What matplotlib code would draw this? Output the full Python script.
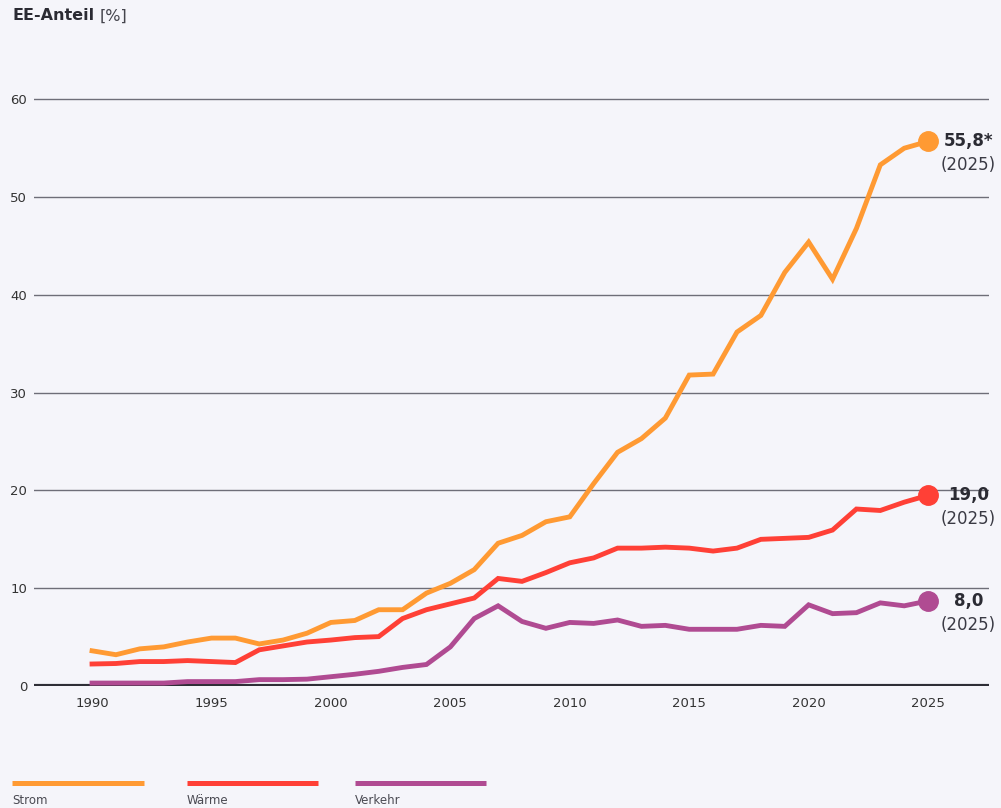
import matplotlib.pyplot as plt
from matplotlib.lines import Line2D

years = list(range(1990, 2026))

strom = [3.6, 3.2, 3.8, 4.0, 4.5, 4.9, 4.9, 4.3, 4.7, 5.4,
         6.5, 6.7, 7.8, 7.8, 9.5, 10.5, 11.9, 14.6, 15.4, 16.8,
         17.3, 20.7, 23.9, 25.3, 27.4, 31.8, 31.9, 36.2, 37.9, 42.3,
         45.4, 41.6, 46.8, 53.3, 55.0, 55.7]
waerme = [2.25, 2.3, 2.5, 2.5, 2.6, 2.5, 2.4, 3.7, 4.1, 4.5,
          4.7, 4.95, 5.05, 6.9, 7.8, 8.4, 9.0, 11.0, 10.7, 11.6,
          12.6, 13.1, 14.1, 14.1, 14.2, 14.1, 13.8, 14.1, 15.0, 15.1,
          15.2, 15.95, 18.1, 17.95, 18.8, 19.5]
verkehr = [0.3, 0.3, 0.3, 0.3, 0.45, 0.45, 0.45, 0.65, 0.65, 0.7,
           0.95, 1.2, 1.5, 1.9, 2.2, 4.0, 6.9, 8.2, 6.6, 5.9,
           6.5, 6.4, 6.75, 6.1, 6.2, 5.8, 5.8, 5.8, 6.2, 6.1,
           8.3, 7.4, 7.5, 8.5, 8.2, 8.7]

series_names = ["Strom", "Wärme", "Verkehr"]
end_labels = ["55,8*", "19,0", "8,0"]
end_year_label = "(2025)"

colors = ["#ff9a33", "#ff4036", "#b04b92"]
bg = "#f5f5fa"

plt.rcParams['font.family'] = ['DejaVu Sans']

fig = plt.figure(figsize=(10.01, 8.08), dpi=100, facecolor=bg)
ax = fig.add_axes([34 / 1001, 122 / 808, 955 / 1001, 616 / 808])
ax.set_facecolor(bg)

for s, c, lab in zip([strom, waerme, verkehr], colors, end_labels):
    ax.plot(years, s, color=c, lw=3.5, solid_joinstyle='miter', zorder=3, clip_on=False)
    ax.plot(years[-1], s[-1], 'o', color=c, ms=14, zorder=4, clip_on=False)
    ax.annotate(lab, (years[-1], s[-1]), xytext=(29, 0), textcoords='offset points',
                ha='center', va='center', fontsize=12, fontweight='bold', color='#2b2b33')
    ax.annotate(end_year_label, (years[-1], s[-1]), xytext=(29, -17), textcoords='offset points',
                ha='center', va='center', fontsize=12, color='#3a3a44')

ax.set_xlim(1987.57, 2027.55)
ax.set_ylim(0, 63)
ax.set_xticks(range(1990, 2026, 5))
ax.set_yticks(range(0, 61, 10))
ax.grid(axis='y', color='#6e6e78', lw=1.0)
ax.axhline(0, color='#2e2e36', lw=3, zorder=2)
for sp in ax.spines.values():
    sp.set_visible(False)
ax.tick_params(length=0, labelsize=9.5, labelcolor='#333333')
ax.tick_params(axis='x', pad=8)
ax.tick_params(axis='y', pad=5)

fig.text(12 / 1001, 1 - 16 / 808, "EE-Anteil", fontsize=11.5, fontweight='bold',
         color='#2b2b33', va='center')
fig.text(100 / 1001, 1 - 16 / 808, "[%]", fontsize=11.5, color='#44444c', va='center')

# legend at the bottom
leg_x = [(12, 144), (187, 318), (355, 486)]
for (x0, x1), c, name in zip(leg_x, colors, series_names):
    fig.add_artist(Line2D([x0 / 1001, x1 / 1001], [1 - 783 / 808] * 2,
                          color=c, lw=3.6, solid_capstyle='butt'))
    fig.text(x0 / 1001, 1 - 800 / 808, name, fontsize=8.5, color='#4a4a52', va='center')

plt.savefig("out.png", facecolor=bg)
